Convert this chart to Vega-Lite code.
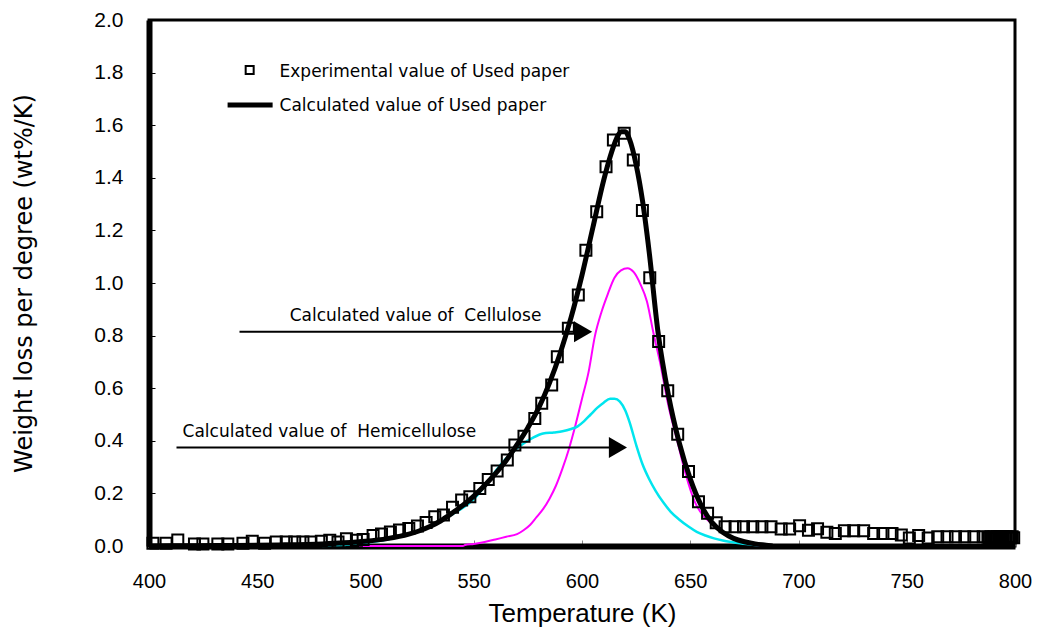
{
  "$schema": "https://vega.github.io/schema/vega-lite/v6.json",
  "width": 866,
  "height": 526,
  "padding": {"left": 149, "top": 20, "right": 22, "bottom": 84},
  "autosize": {"type": "none"},
  "background": "white",
  "config": {
    "view": {"stroke": "black", "strokeWidth": 3},
    "axis": {"grid": false, "domainColor": "black", "domainWidth": 6, "labelColor": "black", "titleColor": "black", "titleFontWeight": "normal"}
  },
  "datasets": {
    "calc": [
      {"T": 400, "w": 0}, {"T": 420, "w": 0.001}, {"T": 440, "w": 0.002}, {"T": 460, "w": 0.004}, {"T": 480, "w": 0.008},
      {"T": 490, "w": 0.012}, {"T": 500, "w": 0.018}, {"T": 510, "w": 0.028}, {"T": 520, "w": 0.045}, {"T": 525, "w": 0.058},
      {"T": 530, "w": 0.075}, {"T": 535, "w": 0.097}, {"T": 540, "w": 0.125}, {"T": 545, "w": 0.155}, {"T": 550, "w": 0.19},
      {"T": 555, "w": 0.23}, {"T": 560, "w": 0.275}, {"T": 565, "w": 0.325}, {"T": 570, "w": 0.385}, {"T": 575, "w": 0.45},
      {"T": 580, "w": 0.525}, {"T": 585, "w": 0.62}, {"T": 590, "w": 0.735}, {"T": 595, "w": 0.87}, {"T": 600, "w": 1.03},
      {"T": 605, "w": 1.21}, {"T": 610, "w": 1.39}, {"T": 613, "w": 1.48}, {"T": 616, "w": 1.55}, {"T": 618, "w": 1.575},
      {"T": 620, "w": 1.575}, {"T": 622, "w": 1.545}, {"T": 625, "w": 1.45}, {"T": 628, "w": 1.31}, {"T": 631, "w": 1.12},
      {"T": 635, "w": 0.82}, {"T": 640, "w": 0.57}, {"T": 645, "w": 0.39}, {"T": 650, "w": 0.255}, {"T": 655, "w": 0.155},
      {"T": 660, "w": 0.09}, {"T": 665, "w": 0.052}, {"T": 670, "w": 0.029}, {"T": 675, "w": 0.016}, {"T": 680, "w": 0.008},
      {"T": 685, "w": 0.003}, {"T": 688, "w": 0}
    ],
    "cell": [
      {"T": 497, "w": 0}, {"T": 545, "w": 0}, {"T": 546, "w": 0.004}, {"T": 550, "w": 0.008}, {"T": 555, "w": 0.015},
      {"T": 560, "w": 0.025}, {"T": 565, "w": 0.035}, {"T": 570, "w": 0.045}, {"T": 573, "w": 0.06}, {"T": 576, "w": 0.08},
      {"T": 579, "w": 0.11}, {"T": 582, "w": 0.14}, {"T": 585, "w": 0.18}, {"T": 588, "w": 0.23}, {"T": 591, "w": 0.295},
      {"T": 594, "w": 0.37}, {"T": 597, "w": 0.46}, {"T": 600, "w": 0.56}, {"T": 603, "w": 0.66}, {"T": 606, "w": 0.8},
      {"T": 609, "w": 0.89}, {"T": 612, "w": 0.96}, {"T": 615, "w": 1.02}, {"T": 618, "w": 1.048}, {"T": 621, "w": 1.056},
      {"T": 624, "w": 1.04}, {"T": 627, "w": 0.995}, {"T": 630, "w": 0.93}, {"T": 633, "w": 0.81}, {"T": 636, "w": 0.7},
      {"T": 640, "w": 0.53}, {"T": 644, "w": 0.4}, {"T": 648, "w": 0.27}, {"T": 652, "w": 0.17}, {"T": 656, "w": 0.115},
      {"T": 660, "w": 0.085}, {"T": 665, "w": 0.055}, {"T": 670, "w": 0.03}, {"T": 675, "w": 0.012}, {"T": 680, "w": 0.004},
      {"T": 684, "w": 0}
    ],
    "hemi": [
      {"T": 480, "w": 0}, {"T": 490, "w": 0.004}, {"T": 500, "w": 0.012}, {"T": 510, "w": 0.025}, {"T": 520, "w": 0.045},
      {"T": 530, "w": 0.075}, {"T": 540, "w": 0.12}, {"T": 550, "w": 0.178}, {"T": 557, "w": 0.25}, {"T": 561, "w": 0.295},
      {"T": 565, "w": 0.333}, {"T": 569, "w": 0.365}, {"T": 573, "w": 0.39}, {"T": 577, "w": 0.41}, {"T": 582, "w": 0.428},
      {"T": 587, "w": 0.432}, {"T": 591, "w": 0.436}, {"T": 595, "w": 0.445}, {"T": 598, "w": 0.455}, {"T": 601, "w": 0.475},
      {"T": 604, "w": 0.5}, {"T": 607, "w": 0.525}, {"T": 610, "w": 0.545}, {"T": 613, "w": 0.56}, {"T": 615, "w": 0.56},
      {"T": 617.5, "w": 0.549}, {"T": 620, "w": 0.515}, {"T": 622, "w": 0.47}, {"T": 625, "w": 0.385}, {"T": 628, "w": 0.31},
      {"T": 631, "w": 0.255}, {"T": 634, "w": 0.21}, {"T": 637.6, "w": 0.165}, {"T": 641, "w": 0.13}, {"T": 645, "w": 0.1},
      {"T": 649, "w": 0.075}, {"T": 653, "w": 0.054}, {"T": 657, "w": 0.04}, {"T": 661, "w": 0.029}, {"T": 665, "w": 0.021},
      {"T": 669, "w": 0.015}, {"T": 673, "w": 0.01}, {"T": 680, "w": 0.004}, {"T": 687, "w": 0}
    ],
    "exp": [
      {"T": 401.8, "w": 0.01}, {"T": 407.9, "w": 0.01}, {"T": 413.3, "w": 0.023}, {"T": 421.0, "w": 0.008}, {"T": 424.9, "w": 0.008},
      {"T": 431.8, "w": 0.008}, {"T": 436.4, "w": 0.008}, {"T": 443.4, "w": 0.01}, {"T": 447.7, "w": 0.018}, {"T": 453.4, "w": 0.01},
      {"T": 458.8, "w": 0.015}, {"T": 463.4, "w": 0.015}, {"T": 467.3, "w": 0.015}, {"T": 471.1, "w": 0.015}, {"T": 474.8, "w": 0.015},
      {"T": 479.6, "w": 0.018}, {"T": 483.5, "w": 0.022}, {"T": 487.3, "w": 0.015}, {"T": 491.2, "w": 0.028}, {"T": 495.8, "w": 0.022},
      {"T": 498.9, "w": 0.025}, {"T": 503.5, "w": 0.04}, {"T": 507.4, "w": 0.046}, {"T": 511.5, "w": 0.053}, {"T": 515.7, "w": 0.061},
      {"T": 520.0, "w": 0.067}, {"T": 524.0, "w": 0.076}, {"T": 528.0, "w": 0.089}, {"T": 532.0, "w": 0.111}, {"T": 536.0, "w": 0.118},
      {"T": 540.2, "w": 0.147}, {"T": 544.4, "w": 0.175}, {"T": 548.2, "w": 0.187}, {"T": 552.8, "w": 0.219}, {"T": 556.7, "w": 0.253},
      {"T": 560.8, "w": 0.285}, {"T": 565.5, "w": 0.327}, {"T": 569.0, "w": 0.384}, {"T": 573.2, "w": 0.417}, {"T": 578.2, "w": 0.485},
      {"T": 581.4, "w": 0.543}, {"T": 586.0, "w": 0.612}, {"T": 588.6, "w": 0.72}, {"T": 593.7, "w": 0.828}, {"T": 598.3, "w": 0.954},
      {"T": 601.8, "w": 1.125}, {"T": 606.8, "w": 1.271}, {"T": 611.1, "w": 1.442}, {"T": 614.5, "w": 1.544}, {"T": 619.5, "w": 1.569},
      {"T": 623.7, "w": 1.468}, {"T": 627.9, "w": 1.276}, {"T": 631.3, "w": 1.02}, {"T": 635.4, "w": 0.778}, {"T": 639.6, "w": 0.59},
      {"T": 644.2, "w": 0.425}, {"T": 649.2, "w": 0.283}, {"T": 653.8, "w": 0.168}, {"T": 658.0, "w": 0.125}, {"T": 662.0, "w": 0.088},
      {"T": 666.1, "w": 0.073}, {"T": 670.7, "w": 0.073}, {"T": 674.6, "w": 0.073}, {"T": 678.9, "w": 0.073}, {"T": 683.1, "w": 0.073},
      {"T": 687.3, "w": 0.073}, {"T": 692.0, "w": 0.065}, {"T": 695.9, "w": 0.065}, {"T": 700.5, "w": 0.077}, {"T": 704.6, "w": 0.06},
      {"T": 708.8, "w": 0.066}, {"T": 713.1, "w": 0.052}, {"T": 717.0, "w": 0.048}, {"T": 721.2, "w": 0.058}, {"T": 725.5, "w": 0.058},
      {"T": 730.1, "w": 0.058}, {"T": 734.7, "w": 0.048}, {"T": 739.0, "w": 0.048}, {"T": 743.2, "w": 0.048}, {"T": 747.5, "w": 0.042},
      {"T": 751.2, "w": 0.03}, {"T": 755.5, "w": 0.04}, {"T": 759.9, "w": 0.03}, {"T": 764.3, "w": 0.035}, {"T": 768.6, "w": 0.035},
      {"T": 772.5, "w": 0.035}, {"T": 776.8, "w": 0.035}, {"T": 781.0, "w": 0.035}, {"T": 785.3, "w": 0.035}, {"T": 787.5, "w": 0.033},
      {"T": 788.2, "w": 0.031}, {"T": 788.9, "w": 0.035}, {"T": 789.6, "w": 0.031}, {"T": 790.3, "w": 0.035}, {"T": 791.0, "w": 0.031},
      {"T": 791.7, "w": 0.035}, {"T": 792.4, "w": 0.031}, {"T": 793.1, "w": 0.035}, {"T": 793.8, "w": 0.031}, {"T": 794.5, "w": 0.035},
      {"T": 795.2, "w": 0.031}, {"T": 795.9, "w": 0.035}, {"T": 796.6, "w": 0.031}, {"T": 797.3, "w": 0.035}, {"T": 798.0, "w": 0.031},
      {"T": 798.7, "w": 0.035}, {"T": 799.4, "w": 0.031}
    ],
    "arrows": [
      {"T0": 441.8, "T1": 600.5, "w": 0.815},
      {"T0": 412.7, "T1": 616.6, "w": 0.3745}
    ],
    "labels": [
      {"T": 465.0, "w": 0.875, "label": "Calculated value of\u00a0 Cellulose"},
      {"T": 415.5, "w": 0.433, "label": "Calculated value of\u00a0 Hemicellulose"},
      {"T": 460.3, "w": 1.802, "label": "Experimental value of Used paper"},
      {"T": 460.3, "w": 1.673, "label": "Calculated value of Used paper"}
    ],
    "legline": [{"T": 436.3, "w": 1.677}, {"T": 457.1, "w": 1.677}],
    "legsq": [{"T": 446.5, "w": 1.81}]
  },
  "encoding": {
    "x": {
      "field": "T", "type": "quantitative",
      "scale": {"domain": [400, 800], "nice": false, "zero": false},
      "axis": {"values": [400, 450, 500, 550, 600, 650, 700, 750, 800], "title": "Temperature (K)", "format": "d",
        "labelFont": "Liberation Sans Narrow, Liberation Sans", "labelFontSize": 20, "tickSize": -6, "tickColor": "#888", "tickWidth": 1,
        "labelPadding": 31, "titleFont": "Liberation Sans Narrow, Liberation Sans", "titleFontSize": 26, "titlePadding": 9, "labelFlush": false,
        "domainWidth": 6, "domainColor": "black"}
    },
    "y": {
      "field": "w", "type": "quantitative",
      "scale": {"domain": [0, 2], "nice": false},
      "axis": {"values": [0, 0.2, 0.4, 0.6, 0.8, 1.0, 1.2, 1.4, 1.6, 1.8, 2.0], "format": ".1f", "title": "Weight loss per degree (wt%/K)",
        "labelFont": "Liberation Sans", "labelFontSize": 21, "tickSize": -6, "tickColor": "black", "tickWidth": 1,
        "labelPadding": 32, "titleFont": "DejaVu Sans", "titleFontSize": 24, "titlePadding": 57, "labelFlush": false,
        "domainWidth": 6, "domainColor": "black"}
    }
  },
  "layer": [
    {"data": {"name": "cell"}, "mark": {"type": "line", "color": "#ff00ff", "strokeWidth": 2, "interpolate": "monotone"}},
    {"data": {"name": "hemi"}, "mark": {"type": "line", "color": "#00e5ee", "strokeWidth": 2.5, "interpolate": "monotone"}},
    {"data": {"name": "calc"}, "mark": {"type": "line", "color": "black", "strokeWidth": 5, "interpolate": "monotone"}},
    {"data": {"name": "exp"}, "mark": {"type": "point", "shape": "square", "filled": false, "stroke": "black", "strokeWidth": 2, "size": 121, "opacity": 1}},
    {"data": {"name": "arrows"}, "mark": {"type": "rule", "color": "black", "strokeWidth": 2},
      "encoding": {"x": {"field": "T0", "type": "quantitative"}, "x2": {"field": "T1"}, "y": {"field": "w", "type": "quantitative"}}},
    {"data": {"name": "arrows"}, "mark": {"type": "point", "shape": "triangle-right", "filled": true, "color": "black", "size": 440, "opacity": 1},
      "encoding": {"x": {"field": "T1", "type": "quantitative"}, "y": {"field": "w", "type": "quantitative"}}},
    {"data": {"name": "labels"}, "mark": {"type": "text", "align": "left", "baseline": "middle", "font": "DejaVu Sans", "fontSize": 17, "color": "black"},
      "encoding": {"text": {"field": "label"}}},
    {"data": {"name": "legline"}, "mark": {"type": "line", "color": "black", "strokeWidth": 5}},
    {"data": {"name": "legsq"}, "mark": {"type": "point", "shape": "square", "filled": false, "stroke": "black", "strokeWidth": 2, "size": 64, "opacity": 1}}
  ]
}
